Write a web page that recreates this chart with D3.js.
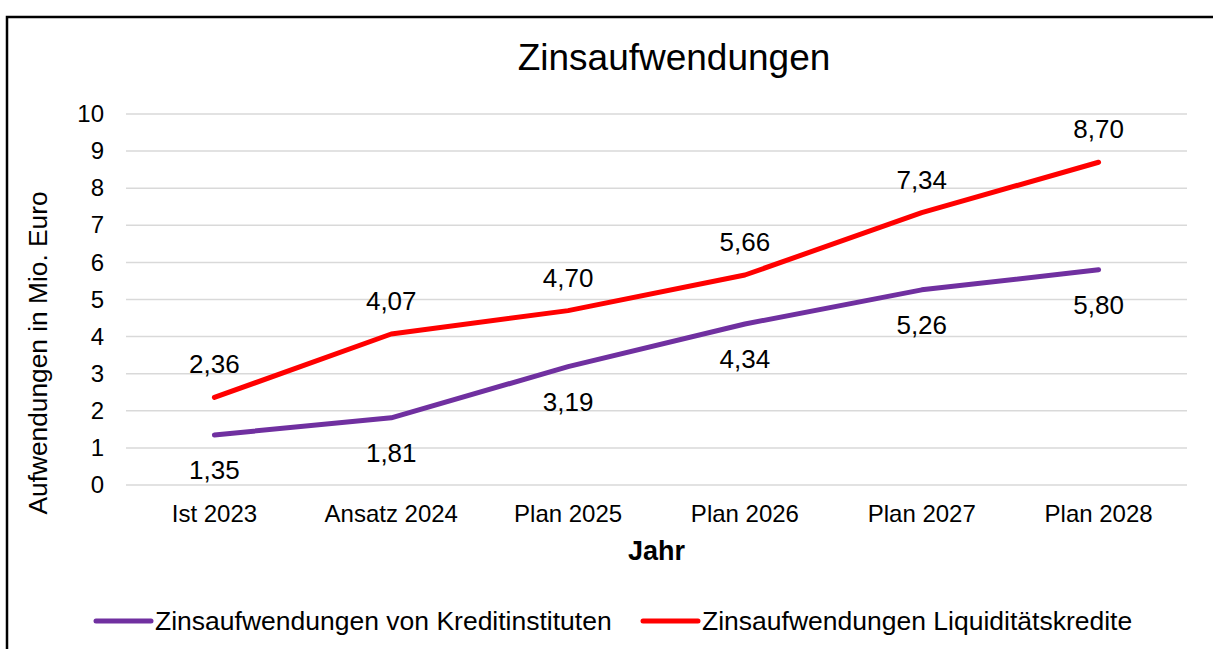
<!DOCTYPE html>
<html>
<head>
<meta charset="utf-8">
<script src="https://cdn.jsdelivr.net/npm/d3@7"></script>
<style>
	body { margin:0; background:#fff; }
	svg { display:block; font-family:"Liberation Sans", Arial, sans-serif; }
</style>
</head>
<body>
<svg id="plot" width="1213" height="649"></svg>
<script>
var years = ["Ist 2023","Ansatz 2024","Plan 2025","Plan 2026","Plan 2027","Plan 2028"];
var kredit = [1.35,1.81,3.19,4.34,5.26,5.80];
var liqui = [2.36,4.07,4.70,5.66,7.34,8.70];
var yTicks = [0,1,2,3,4,5,6,7,8,9,10];
var seriesNames = ["Zinsaufwendungen von Kreditinstituten","Zinsaufwendungen Liquiditätskredite"];
var colors = ["#7030a0","#ff0000"];

var m = {t:114,r:26,b:164,l:126},
	W = 1213, H = 649,
	w = W - m.l - m.r,
	h = H - m.t - m.b;

var svg = d3.select('#plot');

// outer frame (cut off right/bottom like the source)
svg.append("rect")
	.attr("x",7).attr("y",17)
	.attr("width",1400).attr("height",800)
	.attr("fill","none")
	.attr("stroke","#000")
	.attr("stroke-width",2.5);

svg.append("text")
	.attr("x",674).attr("y",70)
	.attr("text-anchor","middle")
	.attr("font-size",37)
	.text("Zinsaufwendungen");

var x = d3.scaleBand().domain(years).range([0,w]),
	y = d3.scaleLinear().domain([0,10]).range([h,0]);

var g = svg.append("g").attr("transform","translate(" + m.l + "," + m.t + ")");

// grid
g.selectAll(".grid")
	.data(yTicks)
	.enter()
	.append("line")
	.attr("class","grid")
	.attr("x1",0).attr("x2",w)
	.attr("y1",function(d){ return y(d); })
	.attr("y2",function(d){ return y(d); })
	.attr("stroke","#d9d9d9")
	.attr("stroke-width",1.5);

var yAxis = g.append("g")
	.call(d3.axisLeft(y).tickValues(yTicks).tickSize(0).tickPadding(22));
yAxis.select(".domain").remove();
yAxis.selectAll("text")
	.attr("font-size",24)
	.attr("font-family","Liberation Sans, Arial, sans-serif")
	.attr("fill","#000");

var xAxis = g.append("g")
	.attr("transform","translate(0," + h + ")")
	.call(d3.axisBottom(x).tickSize(0).tickPadding(20));
xAxis.select(".domain").remove();
xAxis.selectAll("text")
	.attr("font-size",24)
	.attr("font-family","Liberation Sans, Arial, sans-serif")
	.attr("fill","#000");

svg.append("text")
	.attr("x",m.l + w/2).attr("y",560)
	.attr("text-anchor","middle")
	.attr("font-size",27)
	.attr("font-weight","bold")
	.text("Jahr");

svg.append("text")
	.attr("transform","translate(47,353) rotate(-90)")
	.attr("text-anchor","middle")
	.attr("font-size",26.3)
	.text("Aufwendungen in Mio. Euro");

var line = d3.line()
	.x(function(d,i){ return x(years[i]) + x.bandwidth()/2; })
	.y(function(d){ return y(d); });

[kredit, liqui].forEach(function(vals,k){
	g.append("path")
		.datum(vals)
		.attr("d",line)
		.attr("fill","none")
		.attr("stroke",colors[k])
		.attr("stroke-width",5)
		.attr("stroke-linecap","round")
		.attr("stroke-linejoin","round");

	g.selectAll(".lbl" + k)
		.data(vals)
		.enter()
		.append("text")
		.attr("class","lbl" + k)
		.attr("x",function(d,i){ return x(years[i]) + x.bandwidth()/2; })
		.attr("y",function(d){ return y(d) + (k == 0 ? 44 : -24); })
		.attr("text-anchor","middle")
		.attr("font-size",26)
		.text(function(d){ return d.toFixed(2).replace(".",","); });
});

// legend
var legX = [96, 643];
seriesNames.forEach(function(name,k){
	svg.append("line")
		.attr("x1",legX[k]).attr("x2",legX[k] + 55)
		.attr("y1",621).attr("y2",621)
		.attr("stroke",colors[k])
		.attr("stroke-width",5)
		.attr("stroke-linecap","round");
	svg.append("text")
		.attr("x",legX[k] + 59).attr("y",630)
		.attr("font-size",26.5)
		.text(name);
});
</script>
</body>
</html>
